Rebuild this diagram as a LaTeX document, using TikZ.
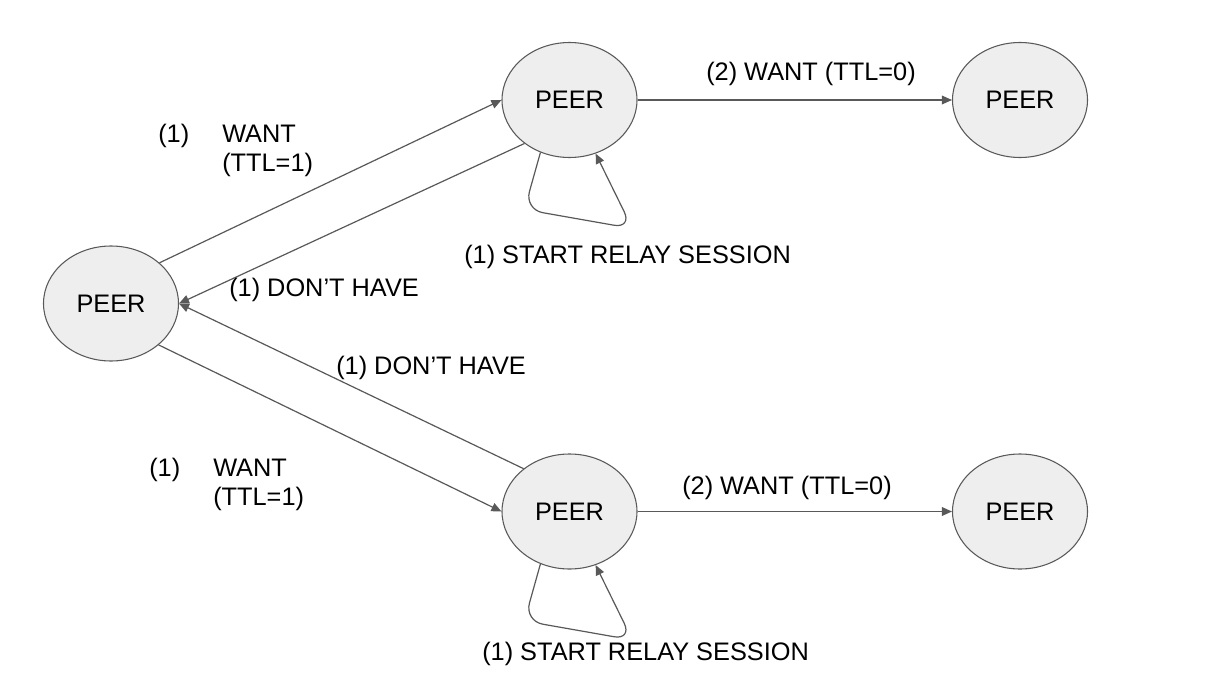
\documentclass[tikz,border=0pt]{standalone}
\usepackage{fontspec}
\setmainfont{Liberation Sans}
\usetikzlibrary{shapes.geometric,arrows.meta}
\definecolor{edge}{HTML}{595959}
\definecolor{nodefill}{HTML}{EEEEEE}
\begin{document}
\begin{tikzpicture}[x=0.75pt,y=-0.75pt,
  peer/.style={ellipse, draw=edge, fill=nodefill, line width=0.8pt,
    minimum width=101.25pt, minimum height=86.25pt, inner sep=0pt,
    font=\fontsize{19}{22}\selectfont},
  lbl/.style={anchor=base west, inner sep=0pt, font=\fontsize{19}{22}\selectfont},
  conn/.style={draw=edge, line width=0.9pt, -{Triangle[length=7.5pt,width=6.5pt]}}]
\useasboundingbox[fill=white] (0,0) rectangle (1229,678);
\node[peer] (L) at (111,303.5) {PEER};
\node[peer] (T) at (569.5,100) {PEER};
\node[peer] (TR) at (1020,100) {PEER};
\node[peer] (B) at (569.5,511.5) {PEER};
\node[peer] (BR) at (1020,511.5) {PEER};
% connectors
\draw[conn] (L.40) -- (T.west);
\draw[conn] (T.224) -- (L.east);
\draw[conn] (L.319) -- (B.west);
\draw[conn] (B.137) -- (L.east);
\draw[conn] (T.east) -- (TR.west);
\draw[conn] (B.east) -- (BR.west);
\draw[conn, rounded corners=14pt] (T.241) -- ++(-16,57) -- ++(108,19) -- (T.296);
\draw[conn, rounded corners=14pt] (B.241) -- ++(-16,57) -- ++(108,19) -- (B.296);
% labels
\node[lbl] at (158,142) {(1)};
\node[lbl] at (222,142) {WANT};
\node[lbl] at (222,171) {(TTL=1)};
\node[lbl] at (229,296) {(1) DON’T HAVE};
\node[lbl] at (464,263) {(1) START RELAY SESSION};
\node[lbl] at (706,80) {(2) WANT (TTL=0)};
\node[lbl] at (336,374) {(1) DON’T HAVE};
\node[lbl] at (149,476) {(1)};
\node[lbl] at (213,476) {WANT};
\node[lbl] at (213,505) {(TTL=1)};
\node[lbl] at (682,494) {(2) WANT (TTL=0)};
\node[lbl] at (482,660) {(1) START RELAY SESSION};
\end{tikzpicture}
\end{document}
